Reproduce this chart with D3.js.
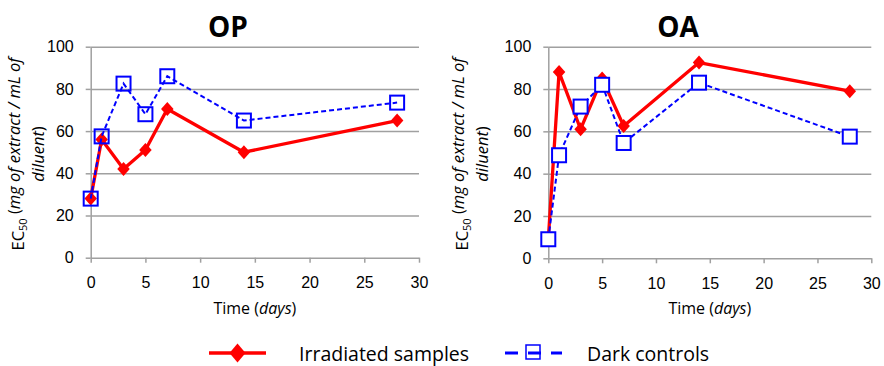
<!DOCTYPE html>
<html>
<head>
<meta charset="utf-8">
<script src="https://cdn.jsdelivr.net/npm/d3@7.9.0/dist/d3.min.js"></script>
<style>
  html, body { margin: 0; padding: 0; background: #fff; }
  svg { display: block; font-family: 'Open Sans', sans-serif; }
  .axis path, .axis line { stroke: #a0a0a0; stroke-width: 1.5; }
  .axis text { font-size: 16px; fill: #000; }
  .grid line { stroke: #a0a0a0; stroke-width: 1.5; }
  .grid path { display: none; }
</style>
</head>
<body>
<div id="chart"></div>
<script>
// Data
const days = [0, 1, 3, 5, 7, 14, 28];
const opIrradiated = [28, 56, 42, 51, 70.5, 50, 65];
const opDark = [28, 57.5, 82.5, 68, 86, 65, 73.5];
const oaIrradiated = [9, 88, 61, 85, 62.5, 92.5, 79];
const oaDark = [9, 48.7, 71.7, 82, 54.5, 83, 57.5];
const xTicks = [0, 5, 10, 15, 20, 25, 30];
const yTicks = [0, 20, 40, 60, 80, 100];
const legendLabels = ['Irradiated samples', 'Dark controls'];

const width = 884;
const height = 366;
const RED = '#ff0000';
const BLUE = '#0000ff';

const svg = d3.select('#chart')
  .append('svg')
  .attr('width', width)
  .attr('height', height);

const diamond = (w, h) => `M0,${-h / 2}L${w / 2},0L0,${h / 2}L${-w / 2},0Z`;

function drawPanel(opts) {
  const { title, irr, dark, left, right, top, bottom, titleX, yTitleX, squareFill } = opts;

  const x = d3.scaleLinear().domain([0, 30]).range([left, right]);
  const y = d3.scaleLinear().domain([0, 100]).range([bottom, top]);

  const g = svg.append('g');

  // gridlines
  g.append('g')
    .attr('class', 'grid')
    .attr('transform', `translate(${left},0)`)
    .call(d3.axisLeft(y).tickValues(yTicks.slice(1)).tickFormat('').tickSize(-(right - left)).tickSizeOuter(0));

  // axes
  g.append('g')
    .attr('class', 'axis')
    .attr('transform', `translate(${left},0)`)
    .call(d3.axisLeft(y).tickValues(yTicks).tickSize(5).tickSizeOuter(0).tickPadding(12));

  g.append('g')
    .attr('class', 'axis')
    .attr('transform', `translate(0,${bottom})`)
    .call(d3.axisBottom(x).tickValues(xTicks).tickSize(5).tickSizeOuter(0).tickPadding(14));

  // title
  g.append('text')
    .attr('x', titleX)
    .attr('y', 36.5)
    .attr('text-anchor', 'middle')
    .style('font-size', '28px')
    .style('font-weight', 'bold')
    .text(title);

  // x title
  const xt = g.append('text')
    .attr('x', (left + right) / 2)
    .attr('y', 314)
    .attr('text-anchor', 'middle')
    .style('font-size', '16px');
  xt.append('tspan').text('Time (');
  xt.append('tspan').style('font-style', 'italic').text('days');
  xt.append('tspan').text(')');

  // y title, two lines
  const yt = g.append('text')
    .attr('transform', `translate(${yTitleX},154) rotate(-90)`)
    .attr('text-anchor', 'middle')
    .style('font-size', '16.5px');
  yt.append('tspan').attr('x', 0).attr('dy', '0.35em').text('EC');
  yt.append('tspan').attr('dy', '0.3em').style('font-size', '11px').text('50');
  yt.append('tspan').attr('dy', '-0.45em').text(' (');
  yt.append('tspan').style('font-style', 'italic').text('mg of extract / mL of');
  yt.append('tspan').attr('x', 0).attr('dy', '1.45em').style('font-style', 'italic').text('diluent');
  yt.append('tspan').text(')');

  const pts = (vals) => days.map((d, i) => [d, vals[i]]);
  const line = d3.line().x(d => x(d[0])).y(d => y(d[1]));

  // irradiated series
  g.append('path')
    .datum(pts(irr))
    .attr('d', line)
    .attr('fill', 'none')
    .attr('stroke', RED)
    .attr('stroke-width', 3.3)
    .attr('stroke-linejoin', 'round');

  g.append('g').selectAll('path').data(pts(irr)).join('path')
    .attr('transform', d => `translate(${x(d[0])},${y(d[1])})`)
    .attr('d', diamond(12.5, 14))
    .attr('fill', RED);

  // dark controls
  g.append('path')
    .datum(pts(dark))
    .attr('d', line)
    .attr('fill', 'none')
    .attr('stroke', BLUE)
    .attr('stroke-width', 2)
    .attr('stroke-dasharray', '5,3');

  g.append('g').selectAll('rect').data(pts(dark)).join('rect')
    .attr('x', d => x(d[0]) - 7)
    .attr('y', d => y(d[1]) - 7)
    .attr('width', 14)
    .attr('height', 14)
    .attr('fill', squareFill)
    .attr('stroke', BLUE)
    .attr('stroke-width', 2);
}

drawPanel({ title: 'OP', irr: opIrradiated, dark: opDark, left: 90.7, right: 419, top: 46.7, bottom: 257.7,
  titleX: 228, yTitleX: 18, squareFill: 'none' });
drawPanel({ title: 'OA', irr: oaIrradiated, dark: oaDark, left: 548.3, right: 871.3, top: 46.7, bottom: 258.3,
  titleX: 678, yTitleX: 462, squareFill: '#fff' });

// legend
const leg = svg.append('g');
leg.append('line')
  .attr('x1', 209).attr('x2', 266).attr('y1', 353).attr('y2', 353)
  .attr('stroke', RED).attr('stroke-width', 3.5);
leg.append('path')
  .attr('transform', 'translate(237.5,353)')
  .attr('d', diamond(16, 19))
  .attr('fill', RED);
leg.append('text')
  .attr('x', 299).attr('y', 361)
  .style('font-size', '19.5px')
  .text(legendLabels[0]);

leg.append('line')
  .attr('x1', 505).attr('x2', 562).attr('y1', 353).attr('y2', 353)
  .attr('stroke', BLUE).attr('stroke-width', 3)
  .attr('stroke-dasharray', '13,10');
leg.append('rect')
  .attr('x', 526).attr('y', 345).attr('width', 14).attr('height', 14)
  .attr('fill', 'none').attr('stroke', BLUE).attr('stroke-width', 1.5);
leg.append('text')
  .attr('x', 587).attr('y', 361)
  .style('font-size', '19.5px')
  .text(legendLabels[1]);
</script>
</body>
</html>
